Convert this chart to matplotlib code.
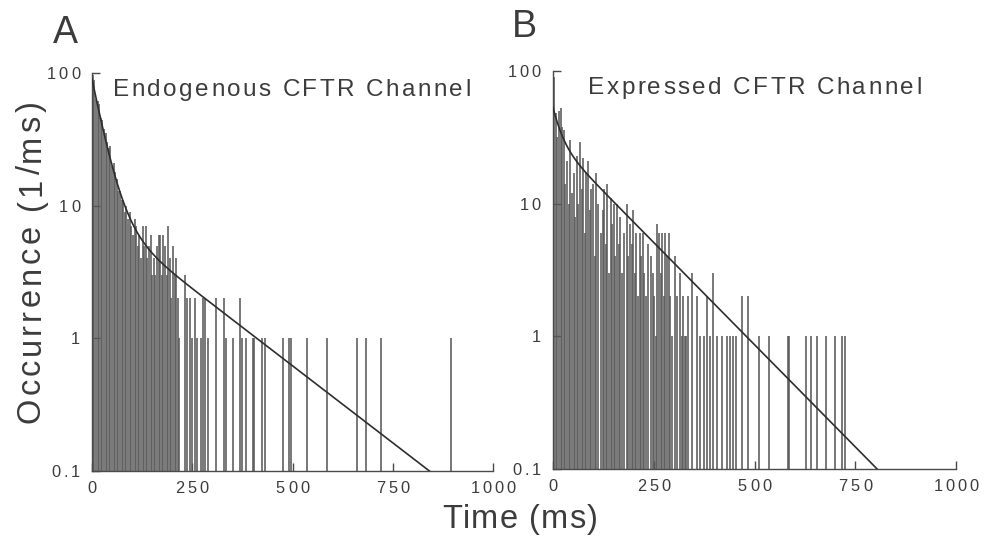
import numpy as np
import matplotlib
matplotlib.use("Agg")
import matplotlib.pyplot as plt
from matplotlib.ticker import FixedLocator, NullLocator, NullFormatter
from matplotlib.font_manager import FontProperties
from matplotlib.transforms import IdentityTransform

# ---------------- data ----------------
bin_ms = 4.0

# Endogenous channel: dense part of the histogram (4 ms bins starting at 2 ms)
endo_dense_start = 2.0
endo_dense_counts = [96, 88, 64, 62, 58, 46, 44, 38, 35, 30, 27, 28, 20, 21, 18, 16,
                     13, 13, 11, 11, 9, 10, 8, 9, 7, 6, 8, 7, 5, 6, 4, 7, 5, 7, 4, 5,
                     6, 3, 4, 3, 5, 6, 6, 3, 6, 5, 3, 7, 4, 2, 5, 3, 4, 2, 1]
# Endogenous channel: isolated long events (time in ms, count)
endo_tail_times = [232, 237, 244, 249, 257, 262, 272, 276, 282, 289, 309, 329, 334,
                   352, 369, 373, 384, 401, 405, 424, 431, 476, 492, 496, 535, 585,
                   660, 683, 720, 895]
endo_tail_counts = [3, 2, 2, 1, 2, 1, 1, 2, 2, 1, 2, 2, 1,
                    1, 2, 1, 1, 1, 1, 1, 1, 1, 1, 1, 1, 1,
                    1, 1, 1, 1]
# Two-exponential fit: amplitudes (1/ms) and time constants (ms)
endo_fit_amp = [81.0, 9.0]
endo_fit_tau = [27.6, 187.0]

# Expressed channel: dense part of the histogram
expr_dense_start = 3.0
expr_dense_counts = [90, 48, 32, 50, 53, 38, 36, 14, 21, 10, 30, 12, 17, 8, 23, 10,
                     29, 13, 22, 6, 17, 21, 9, 13, 14, 4, 17, 10, 0, 6, 9, 13, 5,
                     14, 3, 11, 7, 10, 4, 10, 5, 8, 3, 6, 0, 10, 4, 7, 5, 9, 3, 6,
                     2, 6, 4, 6, 3, 2, 5, 0, 4, 3, 2, 1, 7, 6, 3, 6, 2, 6, 4, 6,
                     2, 1, 0, 4, 2, 0, 3, 1, 2, 1, 1]
expr_tail_times = [336, 346, 358, 366, 374, 381, 390, 398, 407, 420, 432, 440, 447,
                   455, 470, 485, 512, 535, 583, 586, 627, 639, 654, 678, 699, 718,
                   725]
expr_tail_counts = [2, 3, 2, 1, 1, 2, 1, 3, 1, 1, 1, 1, 1,
                    1, 2, 2, 1, 1, 1, 1, 1, 1, 1, 1, 1, 1,
                    1]
expr_fit_amp = [23.0, 30.0]
expr_fit_tau = [19.0, 141.0]

panel_letters = ["A", "B"]
panel_titles = ["Endogenous CFTR Channel", "Expressed CFTR Channel"]
x_ticks = [0, 250, 500, 750, 1000]
x_ticklabels = ["0", "250", "500", "750", "1000"]
y_ticks = [0.1, 1, 10, 100]
y_ticklabels = ["0.1", "1", "10", "100"]

# ---------------- style ----------------
FONT = ["Liberation Sans", "DejaVu Sans"]
plt.rcParams["font.family"] = FONT
TXT = "#3c3c3c"
AX = "#4a4a4a"
STEM = "#5a5a5a"
FIT = "#2e2e2e"

W, H = 990, 539
fig = plt.figure(figsize=(W / 100, H / 100), dpi=100)
fig.patch.set_facecolor("white")
renderer = fig.canvas.get_renderer()


def tracked_text(x, y, s, size, track, ha="left", rotation=0, color=TXT):
    """Write s glyph by glyph (pixel coords, baseline anchored) with extra spacing."""
    fp = FontProperties(family=FONT, size=size)

    def width(txt):
        return renderer.get_text_width_height_descent(txt, fp, ismath=False)[0]

    offsets = [width(s[:i + 1]) - width(ch) + i * track for i, ch in enumerate(s)]
    total = width(s) + (len(s) - 1) * track
    shift = {"left": 0.0, "center": total / 2.0, "right": total}[ha]
    ang = np.deg2rad(rotation)
    dx, dy = np.cos(ang), np.sin(ang)
    for ch, off in zip(s, offsets):
        if ch == " ":
            continue
        d = off - shift
        fig.text(x + d * dx, y + d * dy, ch, transform=IdentityTransform(),
                 fontproperties=fp, color=color, rotation=rotation,
                 rotation_mode="anchor", ha="left", va="baseline")


def px_y(img_y):
    return H - img_y


axes = [
    fig.add_axes([92 / W, 1 - 471 / H, 401 / W, 398 / H]),
    fig.add_axes([553 / W, 1 - 469 / H, 403 / W, 398 / H]),
]

datasets = [
    (endo_dense_start, endo_dense_counts, endo_tail_times, endo_tail_counts,
     endo_fit_amp, endo_fit_tau),
    (expr_dense_start, expr_dense_counts, expr_tail_times, expr_tail_counts,
     expr_fit_amp, expr_fit_tau),
]
title_x = [113, 588]
title_base = [96, 94]
letter_x = [53, 512]
letter_base = [43, 37]

TICK_PT = 11.8
TICK_CAP = 0.716 * TICK_PT * 100 / 72

for k, (ax, letter, title, data) in enumerate(zip(axes, panel_letters, panel_titles, datasets)):
    start, dense, tail_t, tail_c, amp, tau = data
    dense_t = start + bin_ms * np.arange(len(dense))
    times = np.concatenate([dense_t, np.asarray(tail_t, float)])
    counts = np.concatenate([np.asarray(dense, float), np.asarray(tail_c, float)])
    keep = counts > 0

    ax.vlines(times[keep], 0.1, counts[keep], color=STEM, lw=1.15, zorder=2)

    t_fit = np.linspace(0, 1000, 2001)
    y_fit = sum(a * np.exp(-t_fit / tt) for a, tt in zip(amp, tau))
    ax.plot(t_fit, y_fit, color=FIT, lw=1.2, zorder=3)

    ax.set_yscale("log")
    ax.set_xlim(0, 1000)
    ax.set_ylim(0.1, 100)
    ax.set_facecolor("none")

    for side in ("top", "right"):
        ax.spines[side].set_visible(False)
    for side in ("left", "bottom"):
        ax.spines[side].set_color(AX)
        ax.spines[side].set_linewidth(1.0)

    ax.xaxis.set_major_locator(FixedLocator(x_ticks))
    ax.yaxis.set_major_locator(FixedLocator(y_ticks))
    ax.xaxis.set_major_formatter(NullFormatter())
    ax.yaxis.set_major_formatter(NullFormatter())
    ax.yaxis.set_minor_locator(NullLocator())
    ax.yaxis.set_minor_formatter(NullFormatter())
    ax.tick_params(axis="both", direction="in", length=5.5, width=1.0, color=AX)

    # tick labels, drawn with the wide letter spacing of the original plotter font
    for xv, lab in zip(x_ticks, x_ticklabels):
        px, py = ax.transData.transform((xv, 0.1))
        tracked_text(px, py - 22, lab, TICK_PT, 3.0, ha="center")
    for yv, lab in zip(y_ticks, y_ticklabels):
        px, py = ax.transData.transform((0, yv))
        tracked_text(px - 12, py - TICK_CAP / 2, lab, TICK_PT, 3.0, ha="right")

    tracked_text(title_x[k], px_y(title_base[k]), title, 17.5, 2.4)
    tracked_text(letter_x[k], px_y(letter_base[k]), letter, 27, 0)

tracked_text(40, px_y(262), "Occurrence (1/ms)", 23.5, 3.2, ha="center", rotation=90)
tracked_text(520, px_y(528), "Time (ms)", 23.5, 1.2, ha="center")

fig.savefig("out.png", dpi=100, facecolor="white")
